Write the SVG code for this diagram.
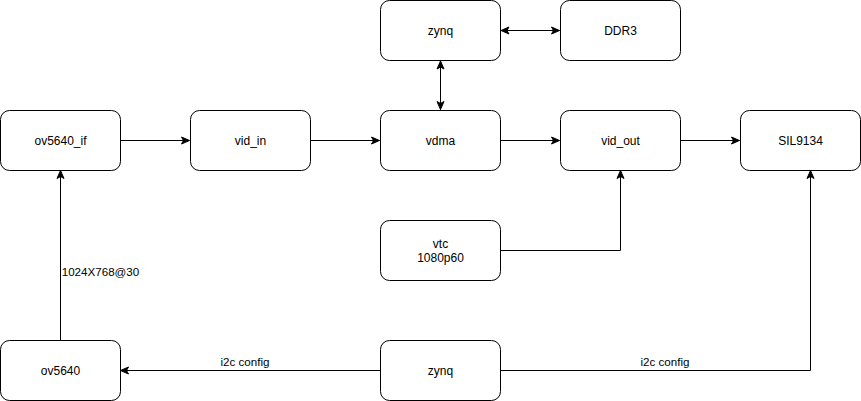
<svg xmlns="http://www.w3.org/2000/svg" width="861" height="401" viewBox="0 0 861 401">
<style>
.box{fill:#fff;stroke:#000;stroke-width:1}
.t{font-family:"Liberation Sans",Arial,sans-serif;font-size:12px;fill:#000;text-anchor:middle;dominant-baseline:central}
.l{font-family:"Liberation Sans",Arial,sans-serif;font-size:11.6px;fill:#000;text-anchor:middle;dominant-baseline:central}
.c{fill:none;stroke:#000;stroke-width:1}
</style>
<defs>
<marker id="a" markerUnits="userSpaceOnUse" markerWidth="10" markerHeight="10" viewBox="0 0 10 10" refX="9" refY="5" orient="auto-start-reverse">
<path d="M1,1.5 L9,5 L1,8.5 L3,5 z" fill="#000" stroke="#000" stroke-width="1"/>
</marker>
</defs>
<rect width="861" height="401" fill="#fff"/>
<g id="connectors">
<path class="c" d="M120.5,140.5 H189.5" marker-end="url(#a)"/>
<path class="c" d="M310.5,140.5 H379.5" marker-end="url(#a)"/>
<path class="c" d="M500.5,140.5 H559.5" marker-end="url(#a)"/>
<path class="c" d="M680.5,140.5 H739.5" marker-end="url(#a)"/>
<path class="c" d="M501,30.5 H559.5" marker-start="url(#a)" marker-end="url(#a)"/>
<path class="c" d="M440.5,61 V109.5" marker-start="url(#a)" marker-end="url(#a)"/>
<path class="c" d="M500.5,250.5 H620.5 V170.5" marker-end="url(#a)"/>
<path class="c" d="M60.5,340.5 V170.5" marker-end="url(#a)"/>
<path class="c" d="M380.5,370.5 H120.5" marker-end="url(#a)"/>
<path class="c" d="M500.5,370.5 H810.5 V170.5" marker-end="url(#a)"/>
<text class="l" x="100.5" y="271">1024X768@30</text>
<text class="l" x="245" y="361">i2c config</text>
<text class="l" x="665" y="361">i2c config</text>
</g>
<g id="ov5640_if"><rect class="box" x="0.5" y="110.5" width="120" height="60" rx="9"/><text class="t" x="60.5" y="140.5">ov5640_if</text></g>
<g id="vid_in"><rect class="box" x="190.5" y="110.5" width="120" height="60" rx="9"/><text class="t" x="250.5" y="140.5">vid_in</text></g>
<g id="vdma"><rect class="box" x="380.5" y="110.5" width="120" height="60" rx="9"/><text class="t" x="440.5" y="140.5">vdma</text></g>
<g id="vid_out"><rect class="box" x="560.5" y="110.5" width="120" height="60" rx="9"/><text class="t" x="620.5" y="140.5">vid_out</text></g>
<g id="sil9134"><rect class="box" x="740.5" y="110.5" width="120" height="60" rx="9"/><text class="t" x="800.5" y="140.5">SIL9134</text></g>
<g id="zynq_top"><rect class="box" x="380.5" y="0.5" width="120" height="60" rx="9"/><text class="t" x="440.5" y="30.5">zynq</text></g>
<g id="ddr3"><rect class="box" x="560.5" y="0.5" width="120" height="60" rx="9"/><text class="t" x="620.5" y="30.5">DDR3</text></g>
<g id="vtc"><rect class="box" x="380.5" y="220.5" width="120" height="60" rx="9"/><text class="t" x="440.5" y="243.5">vtc</text><text class="t" x="440.5" y="257.5">1080p60</text></g>
<g id="ov5640"><rect class="box" x="0.5" y="340.5" width="120" height="60" rx="9"/><text class="t" x="60.5" y="370.5">ov5640</text></g>
<g id="zynq_bottom"><rect class="box" x="380.5" y="340.5" width="120" height="60" rx="9"/><text class="t" x="440.5" y="370.5">zynq</text></g>
</svg>
